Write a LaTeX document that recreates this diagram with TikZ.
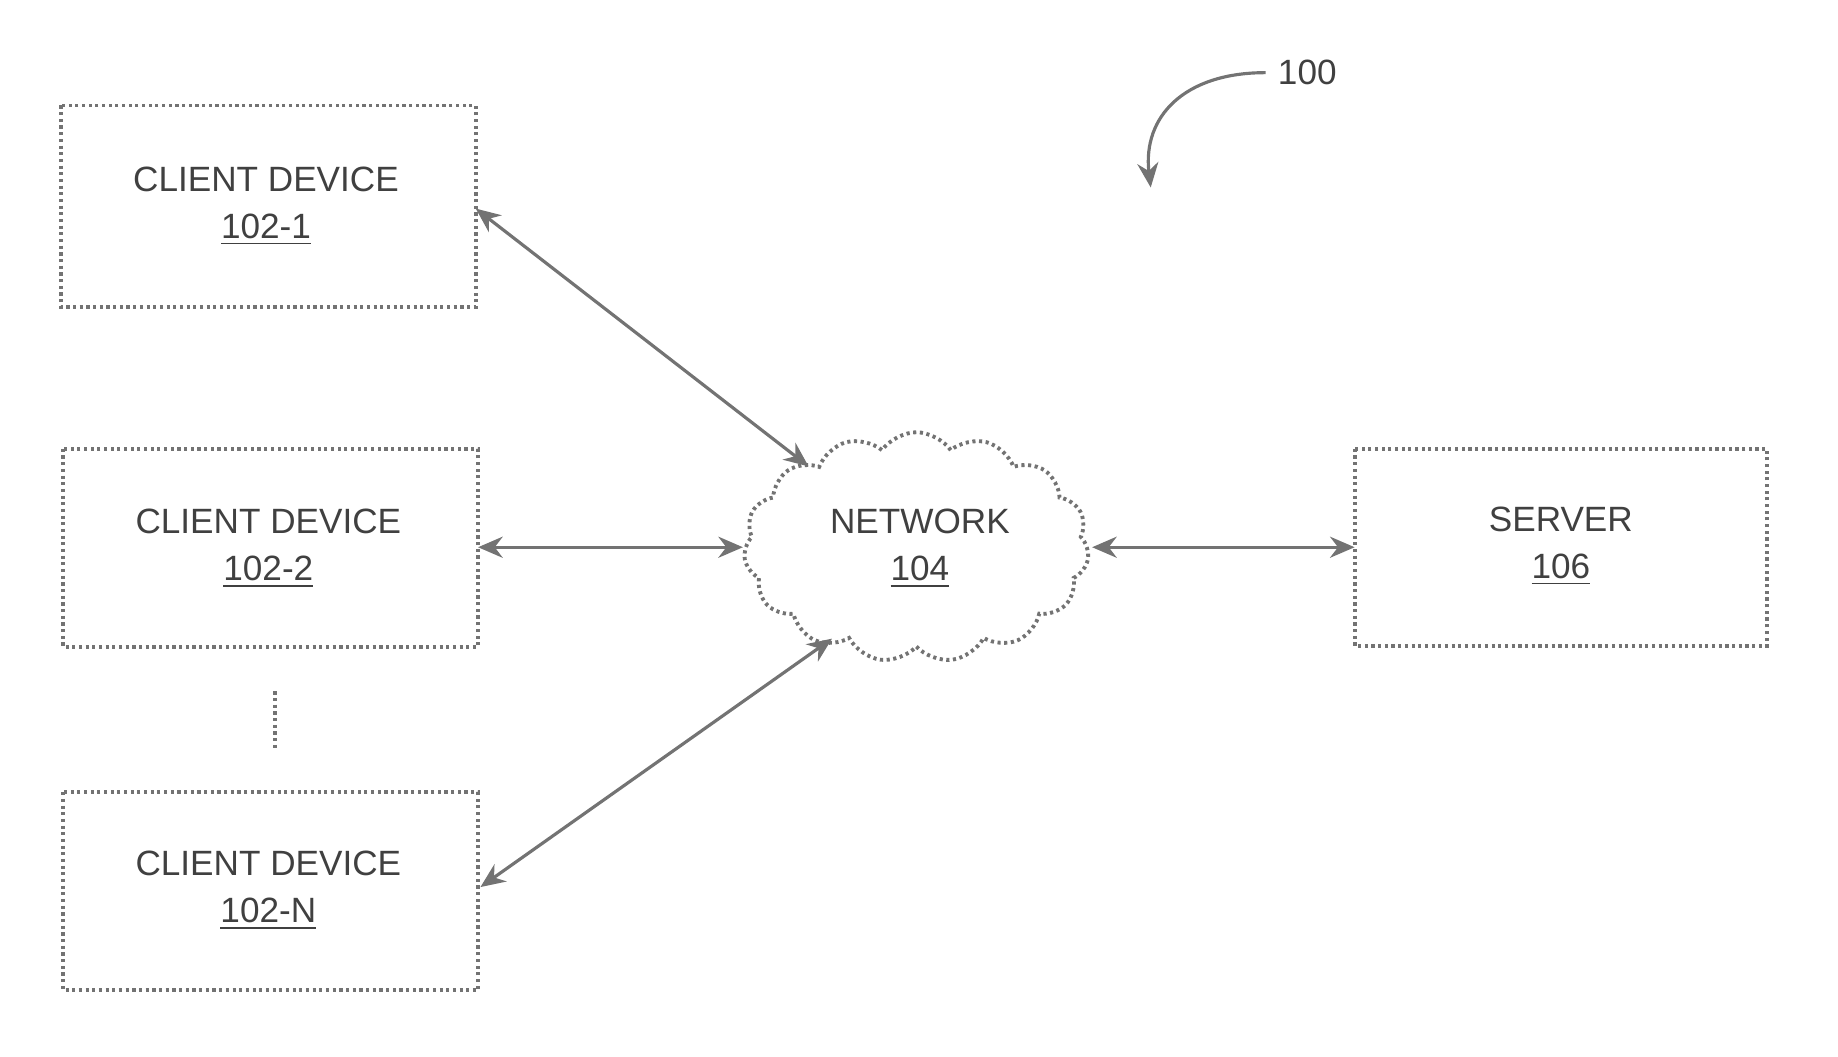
\documentclass[tikz,border=0pt]{standalone}
\usepackage{fontspec}
\setmainfont{Liberation Sans}
\usetikzlibrary{shapes.symbols,arrows.meta}
\begin{document}
\begin{tikzpicture}[x=0.011718cm,y=-0.011718cm,
  ln/.style={draw=black!55,line width=0.9pt},
  box/.style={ln,densely dotted,line width=1.1pt},
  lbl/.style={font=\fontsize{10}{13.4}\selectfont,text=black!75,align=center},
  arr/.style={ln,{Stealth[length=7pt,width=6pt]}-{Stealth[length=7pt,width=6pt]}}]
\useasboundingbox (0,0) rectangle (1568.5,902);
\draw[box] (52,90) rectangle (406,262);
\draw[box] (54,383) rectangle (408,552);
\draw[box] (54,676) rectangle (408,845);
\draw[box] (1156,383) rectangle (1508,551);
\node[lbl] (c1) at (227,176) {CLIENT DEVICE\\\underline{102-1}};
\node[lbl] (c2) at (229,468) {CLIENT DEVICE\\\underline{102-2}};
\node[lbl] (cn) at (229,760) {CLIENT DEVICE\\\underline{102-N}};
\node[lbl] (sv) at (1332,466) {SERVER\\\underline{106}};
\node[cloud,cloud puffs=15,cloud puff arc=110,aspect=1.5,box,minimum width=3.45cm,minimum height=2.3cm] (net) at (782,467) {};
\node[lbl] at (785,468) {NETWORK\\\underline{104}};
\coordinate (a1) at (406,178); \coordinate (b1) at (690,398);
\coordinate (a2) at (408,467); \coordinate (b2) at (634,467);
\coordinate (a3) at (932,467); \coordinate (b3) at (1156,467);
\coordinate (a4) at (410,757); \coordinate (b4) at (710,545);
\draw[arr] (a1) -- (b1);
\draw[arr] (a2) -- (b2);
\draw[arr] (a3) -- (b3);
\draw[arr] (a4) -- (b4);
\draw[ln,densely dotted,line width=1.1pt] (235,590) -- (235,640);
\node[lbl,anchor=west] (ref) at (1080,62) {100};
\coordinate (t) at (982,160);
\draw[ln,-{Stealth[length=7pt,width=6pt]}] (ref.west) .. controls (1010,62) and (975,100) .. (t);
\end{tikzpicture}
\end{document}
